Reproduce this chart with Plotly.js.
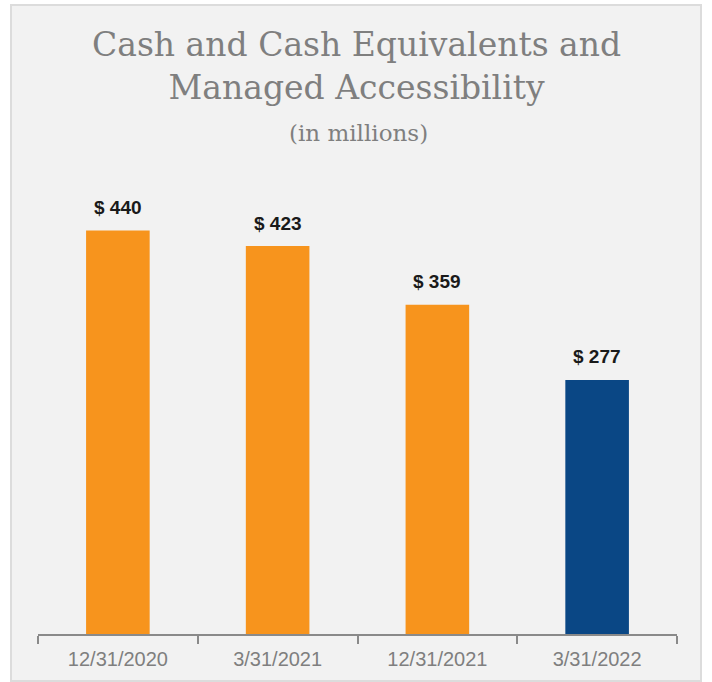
<!DOCTYPE html>
<html>
<head>
<meta charset="utf-8">
<script src="https://cdn.plot.ly/plotly-3.0.1.min.js"></script>
<style>
  html, body { margin: 0; padding: 0; background: #ffffff; }
  #chart { width: 712px; height: 682px; }
</style>
</head>
<body>
<div id="chart"></div>
<script>
const categories = ["12/31/2020", "3/31/2021", "12/31/2021", "3/31/2022"];
const values = [440, 423, 359, 277];
const barColors = ["#F7941D", "#F7941D", "#F7941D", "#0A4785"];
const valueLabels = values.map(v => "$ " + v);
const titleText = "Cash and Cash Equivalents and<br>Managed Accessibility";
const subtitleText = "(in millions)";

// plot area: x 38..677, y 170..634 in pixels
const L = 38, R = 35, T = 170, B = 48, W = 712, H = 682;
const pw = W - L - R, ph = H - T - B;
const px = x => (x - L) / pw;
const py = y => (H - B - y) / ph;

const trace = {
  type: "bar",
  x: categories,
  y: values,
  marker: { color: barColors },
  hoverinfo: "skip"
};

const valueAnnotations = categories.map((c, i) => ({
  x: c, y: values[i], xref: "x", yref: "y",
  text: "<b>" + valueLabels[i] + "</b>",
  showarrow: false, yanchor: "middle", yshift: 23,
  font: { family: "Liberation Sans, Arial, sans-serif", size: 19, color: "#1a1a1a" }
}));

const layout = {
  width: W, height: H,
  margin: { l: L, r: R, t: T, b: B, pad: 0 },
  paper_bgcolor: "#ffffff",
  plot_bgcolor: "rgba(0,0,0,0)",
  showlegend: false,
  bargap: 0.602,
  xaxis: {
    type: "category",
    showgrid: false, zeroline: false,
    showline: true, linecolor: "#8a8a8a", linewidth: 2,
    ticks: "outside", tickson: "boundaries", ticklen: 8, tickwidth: 2, tickcolor: "#8a8a8a",
    ticklabelstandoff: 6,
    tickfont: { family: "Liberation Sans, Arial, sans-serif", size: 20, color: "#7f7f7f" },
    fixedrange: true
  },
  yaxis: {
    range: [0, 506], visible: false, showgrid: false, zeroline: false, fixedrange: true
  },
  shapes: [{
    type: "rect", xref: "paper", yref: "paper", layer: "below",
    x0: px(11), x1: px(701), y0: py(681), y1: py(5),
    fillcolor: "#f2f2f2", line: { color: "#dcdcdc", width: 2 }
  }],
  annotations: [
    {
      xref: "paper", yref: "paper", x: px(356.5), y: py(66),
      text: titleText, showarrow: false, xanchor: "center", yanchor: "middle",
      font: { family: "DejaVu Serif, Georgia, serif", size: 33, color: "#7f7f7f" }
    },
    {
      xref: "paper", yref: "paper", x: px(358), y: py(133),
      text: subtitleText, showarrow: false, xanchor: "center", yanchor: "middle",
      font: { family: "DejaVu Serif, Georgia, serif", size: 23, color: "#7f7f7f" }
    }
  ].concat(valueAnnotations)
};

Plotly.newPlot("chart", [trace], layout, { displayModeBar: false, staticPlot: true });
</script>
</body>
</html>
